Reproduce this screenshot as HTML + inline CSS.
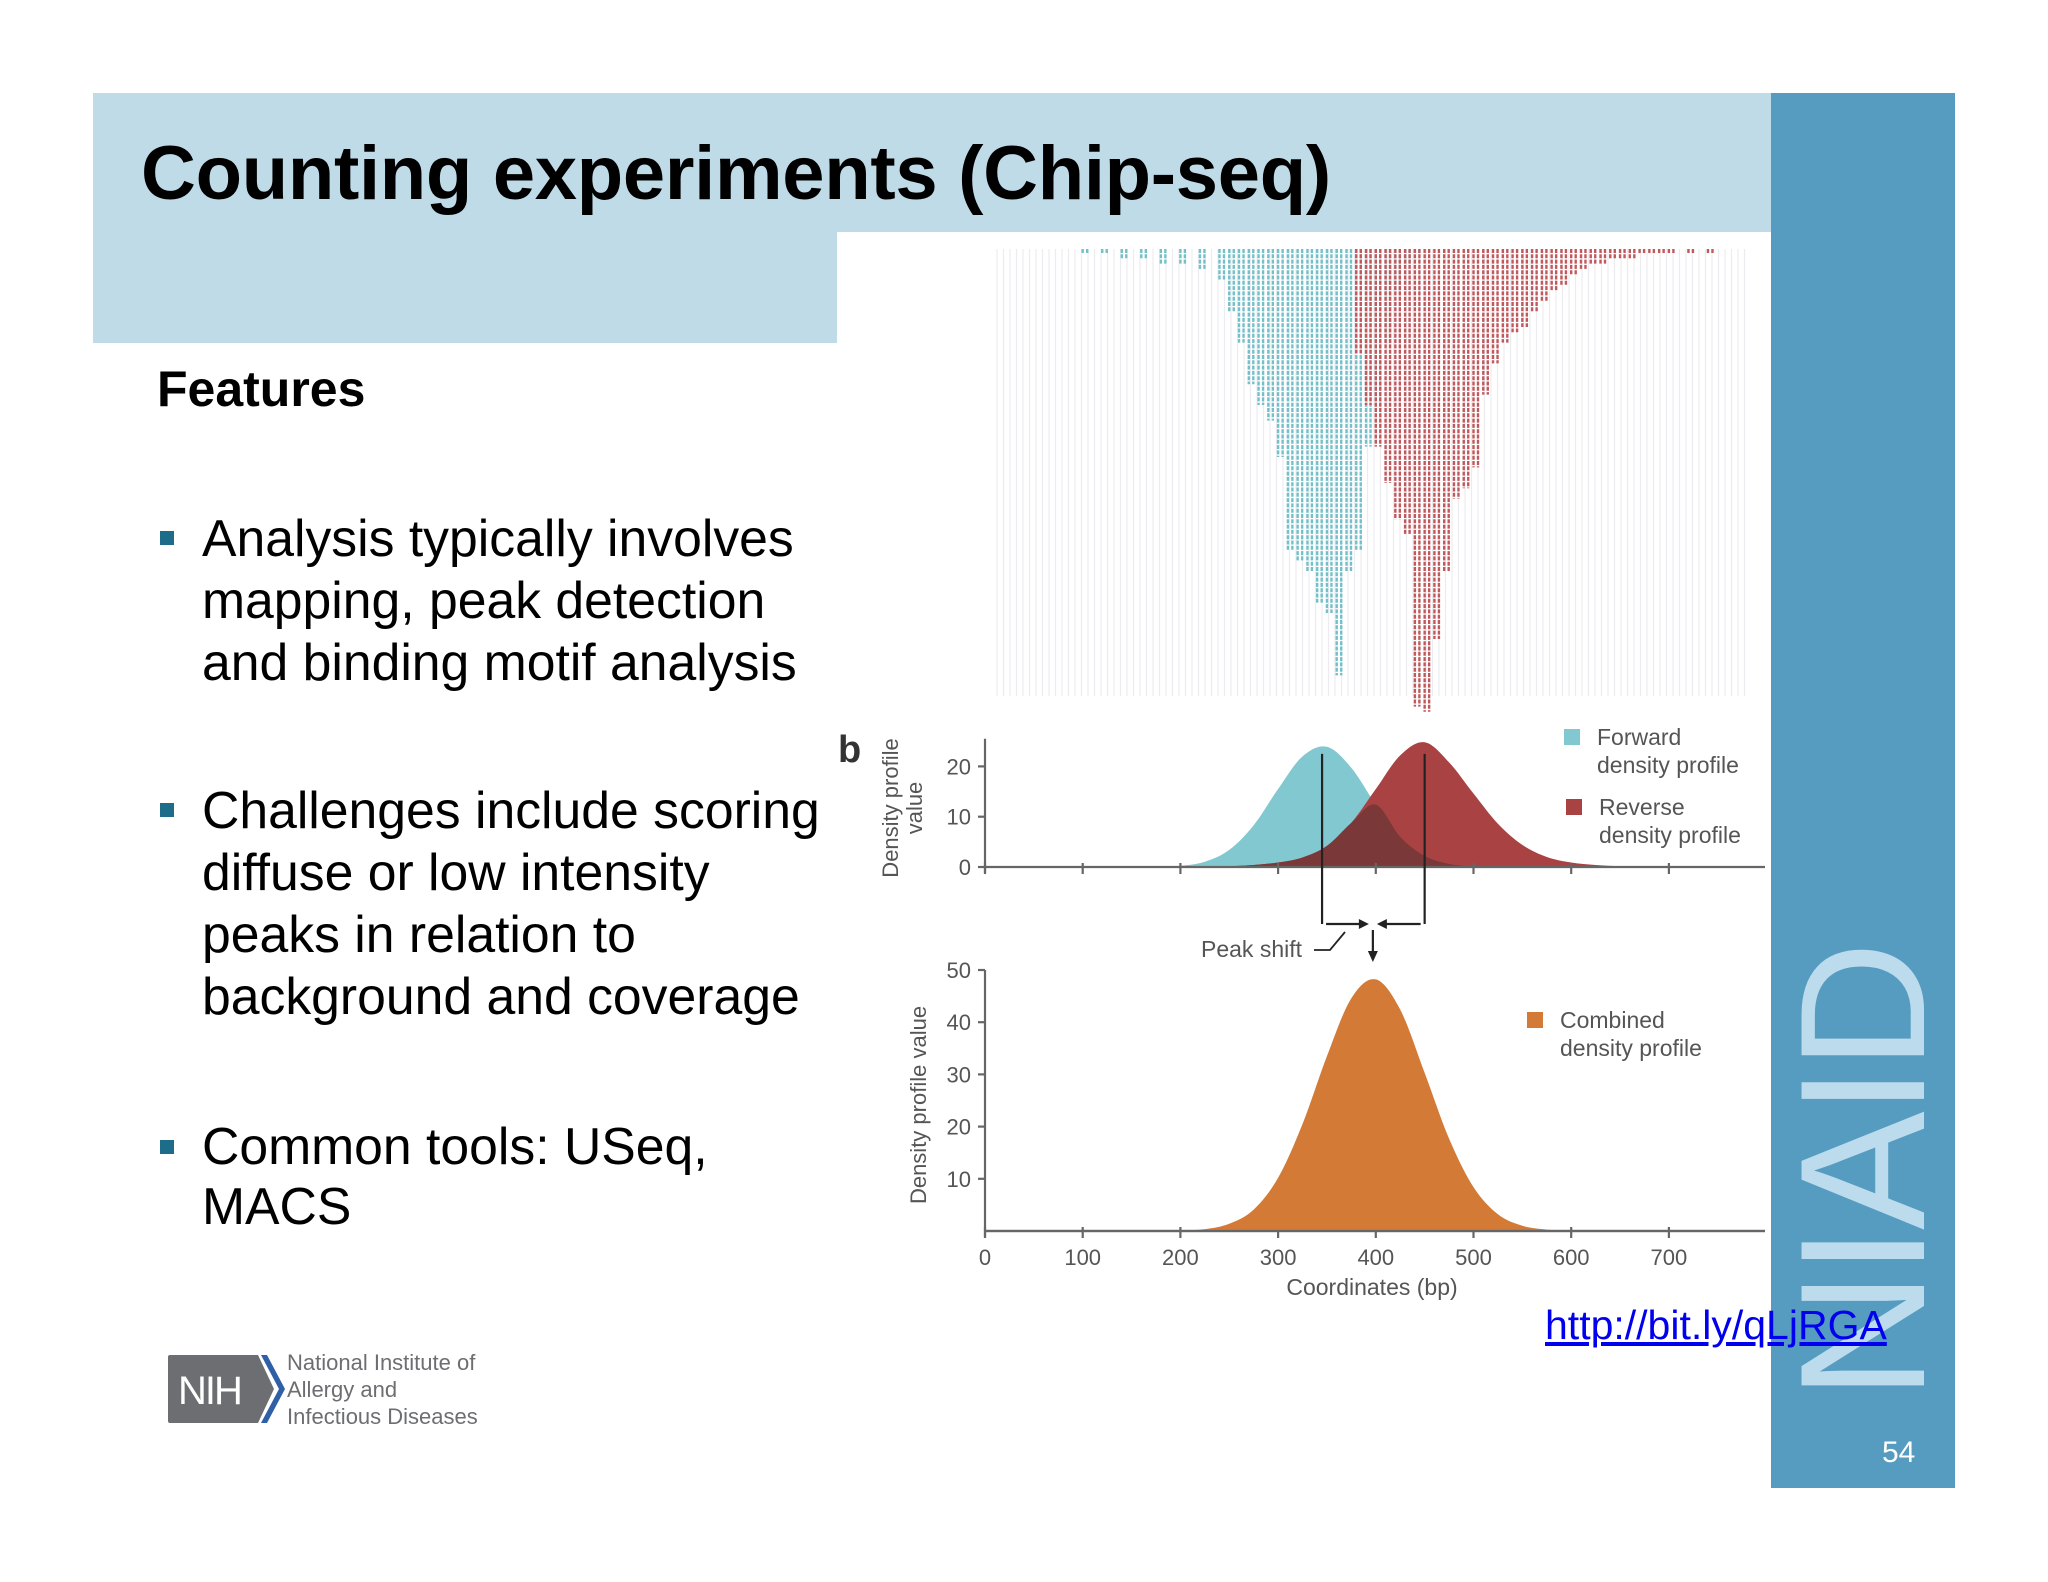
<!DOCTYPE html>
<html><head><meta charset="utf-8">
<style>
html,body{margin:0;padding:0;background:#fff;}
body{width:2048px;height:1582px;position:relative;overflow:hidden;font-family:"Liberation Sans",Arial,sans-serif;}
.abs{position:absolute;}
</style></head>
<body>
<div class="abs" style="left:93px;top:93px;width:1678px;height:139px;background:#bfdbe8;"></div>
<div class="abs" style="left:93px;top:232px;width:744px;height:111px;background:#bfdbe8;"></div>
<div class="abs" style="left:1771px;top:93px;width:184px;height:1395px;background:#569cc0;"></div>
<div class="abs" style="left:141px;top:130px;font-size:76px;font-weight:bold;color:#000;white-space:nowrap;letter-spacing:-0.3px;">Counting experiments (Chip-seq)</div>
<div class="abs" style="left:157px;top:360px;font-size:50px;font-weight:bold;color:#000;">Features</div>

<div class="abs" style="left:202px;top:507px;font-size:51.7px;line-height:62px;color:#000;white-space:nowrap;">Analysis typically involves<br>mapping, peak detection<br>and binding motif analysis</div>
<div class="abs" style="left:202px;top:779px;font-size:51.7px;line-height:62px;color:#000;white-space:nowrap;">Challenges include scoring<br>diffuse or low intensity<br>peaks in relation to<br>background and coverage</div>
<div class="abs" style="left:202px;top:1116px;font-size:51.7px;line-height:60px;color:#000;white-space:nowrap;">Common tools: USeq,<br>MACS</div>
<div class="abs" style="left:160px;top:531px;width:14px;height:14px;background:#1d6c89;"></div>
<div class="abs" style="left:160px;top:803px;width:14px;height:14px;background:#1d6c89;"></div>
<div class="abs" style="left:160px;top:1140px;width:14px;height:14px;background:#1d6c89;"></div>

<svg class="abs" style="left:166px;top:1352px;" width="330" height="80">
<path d="M4 3 H92 L108 37 L92 71 H4 Q2 71 2 69 V5 Q2 3 4 3Z" fill="#6d6e71"/>
<path d="M95 3 L113 37 L95 71 L101 71 L119 37 L101 3Z" fill="#2f5fa7"/>
<text x="12" y="52" font-size="40" fill="#fff" font-family="Liberation Sans,sans-serif" letter-spacing="-2">NIH</text>
<text x="121" y="18" font-size="22" fill="#6d6e71" font-family="Liberation Sans,sans-serif">National Institute of</text>
<text x="121" y="45" font-size="22" fill="#6d6e71" font-family="Liberation Sans,sans-serif">Allergy and</text>
<text x="121" y="72" font-size="22" fill="#6d6e71" font-family="Liberation Sans,sans-serif">Infectious Diseases</text>
</svg>

<div class="abs" style="left:1797px;top:1400px;transform-origin:0 0;transform:rotate(-90deg);font-size:178px;line-height:132px;height:132px;color:#bcdcee;white-space:nowrap;font-weight:normal;letter-spacing:-4px;">NIAID</div>
<div class="abs" style="left:1882px;top:1436px;font-size:30px;color:#fff;">54</div>
<a class="abs" href="#" style="left:1545px;top:1302px;font-size:41px;color:#0000ee;text-decoration:underline;white-space:nowrap;">http://bit.ly/qLjRGA</a>

<svg id="chart" class="abs" style="left:0;top:0;" width="2048" height="1582"></svg>

<script>
// ---- data ----
const xTickValues = [0,100,200,300,400,500,600,700];
const topYTicks = [0,10,20];
const bottomYTicks = [10,20,30,40,50];
const coordsBp = [100,125,150,175,200,225,250,275,300,325,350,375,400,425,450,475,500,525,550,575,600,625,650,675,700];
const forwardDensity = [0,0,0.01,0.05,0.25,1.05,3.4,8.3,15.5,22,23.9,19.7,12.4,6.0,2.2,0.6,0.13,0.02,0,0,0,0,0,0,0];
const reverseDensity = [0,0,0,0,0,0.05,0.15,0.4,0.9,1.9,4.2,8.8,15.5,22.2,24.8,20.8,14.6,8.6,4.4,2.0,0.9,0.4,0.15,0.05,0];
const combinedDensity = [0,0,0,0.01,0.08,0.36,1.4,4.1,10.2,20.5,33.5,44.6,48.2,42.4,30.3,17.7,8.4,3.2,1.0,0.27,0.06,0.01,0,0,0];
const forwardPeakBp = 345;
const reversePeakBp = 450;
const combinedPeakBp = 397;
const readBinsF = [100,120,140,160,180,200,220,240,250,260,270,280,290,300,310,320,330,340,350,360,370,380,390,400,410,420,430,440];
const readDepthF = [1,1,2,2,3,3,4,6,12,18,26,30,33,40,58,60,62,68,70,82,62,58,38,30,18,8,3,1];
const readBinsR = [380,390,400,410,420,430,440,450,460,470,480,490,500,510,520,530,540,550,560,570,580,590,600,610,620,630,640,650,660,670,680,690,700,720,740];
const readDepthR = [20,30,38,45,52,55,88,89,75,62,48,46,42,28,22,18,16,15,12,10,8,7,5,4,3,3,2,2,2,1,1,1,1,1,1];

// ---- scales ----
const X0 = 985, PX_PER_BP = 0.977;
const xS = bp => X0 + bp*PX_PER_BP;
const topBase = 867, topPx = 5.03;
const yTop = v => topBase - v*topPx;
const botBase = 1231, botPx = 5.22;
const yBot = v => botBase - v*botPx;
const readTop = 249, readRow = 5.2;

const NS = 'http://www.w3.org/2000/svg';
const svg = document.getElementById('chart');
function mk(tag, attrs, parent){
  const e = document.createElementNS(NS, tag);
  for (const k in attrs) e.setAttribute(k, attrs[k]);
  (parent||svg).appendChild(e);
  return e;
}
function smoothPath(pts){
  let d = 'M'+pts[0][0]+','+pts[0][1];
  for (let i=0;i<pts.length-1;i++){
    const p0=pts[i-1]||pts[i], p1=pts[i], p2=pts[i+1], p3=pts[i+2]||p2;
    const c1x=p1[0]+(p2[0]-p0[0])/6, c1y=p1[1]+(p2[1]-p0[1])/6;
    const c2x=p2[0]-(p3[0]-p1[0])/6, c2y=p2[1]-(p3[1]-p1[1])/6;
    d+=' C'+c1x+','+c1y+' '+c2x+','+c2y+' '+p2[0]+','+p2[1];
  }
  return d;
}
function areaPath(vals, ys, base){
  const pts = coordsBp.map((b,i)=>[xS(b), ys(vals[i])]);
  return smoothPath(pts)+' L'+xS(coordsBp[coordsBp.length-1])+','+base+' L'+xS(coordsBp[0])+','+base+' Z';
}

// ---- reads panel ----
const bg = mk('g', {});


for (let x=997; x<1750; x+=6.5){
  const l = mk('line', {x1:x, y1:readTop, x2:x, y2:696, stroke:'#ececf0', 'stroke-width':1.2}, bg);
  
  
}
function drawReads(bins, depths, color, name){
  const g = mk('g', {});
  
  
  bins.forEach((b,i)=>{
    const yEnd = readTop + depths[i]*readRow;
    [0,4.5].forEach(off=>{
      const l = mk('line', {x1:xS(b)+off, y1:readTop, x2:xS(b)+off, y2:yEnd, stroke:color, 'stroke-width':2.4, 'stroke-dasharray':'4 1.3'}, g);
      
      
    });
  });
}
drawReads(readBinsF, readDepthF, '#74c0c8', 'forward-reads');
drawReads(readBinsR, readDepthR, '#c0585c', 'reverse-reads');

// ---- top chart ----
const fwd = mk('path', {d:areaPath(forwardDensity,yTop,topBase), fill:'#82c8d0'});


const rev = mk('path', {d:areaPath(reverseDensity,yTop,topBase), fill:'#a94343'});


const overlapVals = forwardDensity.map((v,i)=>Math.min(v, reverseDensity[i]));
const ov = mk('path', {d:areaPath(overlapVals,yTop,topBase), fill:'#7b3838'});



function axis(base, ys, ticks, topVal, name){
  const g = mk('g', {stroke:'#666', 'stroke-width':2.2, fill:'none'});
  
  
  mk('line', {x1:X0, y1:base, x2:1765, y2:base}, g);
  mk('line', {x1:X0, y1:ys(topVal), x2:X0, y2:base+6}, g);
  ticks.forEach(t=>{
    mk('line', {x1:X0-7, y1:ys(t), x2:X0, y2:ys(t)}, g);
    const tx = mk('text', {x:X0-14, y:ys(t)+8, 'font-size':22, fill:'#555', stroke:'none', 'text-anchor':'end', 'font-family':'Liberation Sans,sans-serif'});
    tx.textContent = t;
    
    
  });
  xTickValues.forEach(t=>{
    mk('line', {x1:xS(t), y1:base-4, x2:xS(t), y2:base+7}, g);
  });
}
axis(topBase, yTop, topYTicks, 25.5, 'top-axes');
axis(botBase, yBot, bottomYTicks, 50, 'bottom-axes');

// peak markers
const pk = mk('g', {stroke:'#222', 'stroke-width':2.2, fill:'#222'});


mk('line', {x1:xS(forwardPeakBp), y1:yTop(22.5), x2:xS(forwardPeakBp), y2:924}, pk);
mk('line', {x1:xS(reversePeakBp), y1:yTop(22.5), x2:xS(reversePeakBp), y2:924}, pk);
mk('line', {x1:xS(forwardPeakBp)+4, y1:924, x2:xS(combinedPeakBp)-12, y2:924}, pk);
mk('polygon', {points:(xS(combinedPeakBp)-4)+',924 '+(xS(combinedPeakBp)-14)+',919 '+(xS(combinedPeakBp)-14)+',929', stroke:'none'}, pk);
mk('line', {x1:xS(reversePeakBp)-4, y1:924, x2:xS(combinedPeakBp)+12, y2:924}, pk);
mk('polygon', {points:(xS(combinedPeakBp)+4)+',924 '+(xS(combinedPeakBp)+14)+',919 '+(xS(combinedPeakBp)+14)+',929', stroke:'none'}, pk);
mk('line', {x1:xS(combinedPeakBp), y1:930, x2:xS(combinedPeakBp), y2:952}, pk);
mk('polygon', {points:xS(combinedPeakBp)+',962 '+(xS(combinedPeakBp)-5)+',951 '+(xS(combinedPeakBp)+5)+',951', stroke:'none'}, pk);
mk('path', {d:'M1314 950 H1330 L1345 932', fill:'none', 'stroke-width':1.8}, pk);
const pst = mk('text', {x:1302, y:957, 'font-size':23, fill:'#555', stroke:'none', 'text-anchor':'end', 'font-family':'Liberation Sans,sans-serif'});
pst.textContent = 'Peak shift';



// ---- bottom chart ----
const comb = mk('path', {d:areaPath(combinedDensity,yBot,botBase), fill:'#d27a36'});


mk('line', {x1:X0, y1:botBase, x2:1765, y2:botBase, stroke:'#666', 'stroke-width':2.2});

xTickValues.forEach(t=>{
  const tx = mk('text', {x:xS(t), y:1265, 'font-size':22, fill:'#555', 'text-anchor':'middle', 'font-family':'Liberation Sans,sans-serif'});
  tx.textContent = t;
  
  
});

function txt(x,y,s,size,attrs,name){
  const t = mk('text', Object.assign({x:x,y:y,'font-size':size,fill:'#555','font-family':'Liberation Sans,sans-serif'}, attrs||{}));
  t.textContent = s;
  
  
  return t;
}
txt(1372,1295,'Coordinates (bp)',23,{'text-anchor':'middle'},'x-axis-title');
txt(0,0,'Density profile',22,{'text-anchor':'middle',transform:'translate(898,808) rotate(-90)'},'top-y-axis-title');
txt(0,0,'value',22,{'text-anchor':'middle',transform:'translate(922,808) rotate(-90)'},'top-y-axis-title-2');
txt(0,0,'Density profile value',22,{'text-anchor':'middle',transform:'translate(926,1105) rotate(-90)'},'bottom-y-axis-title');
txt(838,762,'b',38,{'font-weight':'bold',fill:'#333'},'panel-label-b');

// legend
function legend(x,y,color,l1,l2,name){
  const r = mk('rect', {x:x, y:y, width:16, height:16, fill:color});
  
  
  txt(x+33, y+16, l1, 23, {}, name+'-label');
  txt(x+33, y+44, l2, 23, {}, name+'-label-2');
}
legend(1564,729,'#82c8d0','Forward','density profile','legend-forward');
legend(1566,799,'#a94343','Reverse','density profile','legend-reverse');
legend(1527,1012,'#d27a36','Combined','density profile','legend-combined');
</script>
</body></html>
